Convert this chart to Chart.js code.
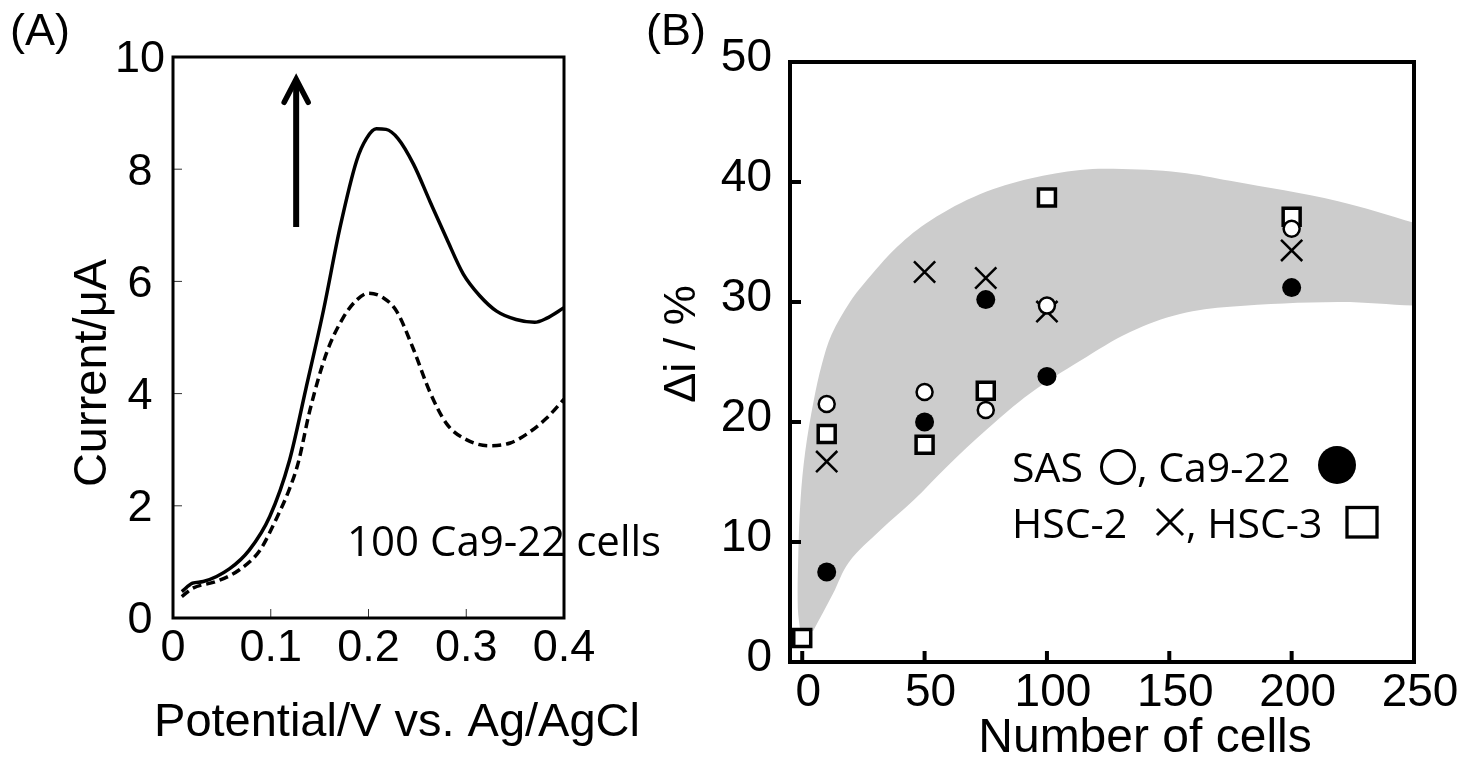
<!DOCTYPE html>
<html>
<head>
<meta charset="utf-8">
<script src="https://cdn.jsdelivr.net/npm/chart.js@4.4.1/dist/chart.umd.min.js"></script>
<style>
  html, body { margin: 0; padding: 0; background: #fff; }
  #wrap { position: relative; width: 1471px; height: 759px; }
  canvas { position: absolute; left: 0; top: 0; }
</style>
</head>
<body>
<div id="wrap">
  <canvas id="chartA" width="1471" height="759"></canvas>
  <canvas id="chartB" width="1471" height="759"></canvas>
</div>
<script>
// ---- panel (A): voltammograms ----
var potentialCells = [0.009, 0.020, 0.031, 0.058, 0.078, 0.099, 0.119, 0.136, 0.154, 0.171, 0.188, 0.198, 0.208, 0.218, 0.230, 0.246, 0.263, 0.280, 0.297, 0.314, 0.331, 0.351, 0.370, 0.382, 0.400];
var currentCells   = [0.47, 0.62, 0.65, 0.88, 1.21, 1.81, 2.80, 4.09, 5.49, 6.97, 8.16, 8.55, 8.72, 8.71, 8.55, 8.09, 7.42, 6.76, 6.13, 5.74, 5.47, 5.32, 5.27, 5.34, 5.53];
var potentialBlank = [0.009, 0.020, 0.044, 0.068, 0.089, 0.106, 0.118, 0.128, 0.140, 0.157, 0.174, 0.188, 0.200, 0.215, 0.229, 0.246, 0.263, 0.280, 0.300, 0.324, 0.345, 0.362, 0.382, 0.400];
var currentBlank   = [0.38, 0.53, 0.65, 0.86, 1.21, 1.78, 2.25, 2.76, 3.70, 4.72, 5.35, 5.67, 5.79, 5.71, 5.46, 4.79, 4.02, 3.46, 3.18, 3.07, 3.12, 3.28, 3.56, 3.90];
var xTicksA = [0, 0.1, 0.2, 0.3, 0.4];
var yTicksA = [0, 2, 4, 6, 8, 10];
var arrowA = { x: 0.126, from: 6.97, to: 9.62 };

// ---- panel (B): delta i vs number of cells ----
var cellsSAS = [10, 50, 75, 100, 200];
var diSAS = [21.5, 22.5, 21.0, 29.7, 36.1];
var cellsCa922 = [10, 50, 75, 100, 200];
var diCa922 = [7.5, 20.0, 30.2, 23.8, 31.2];
var cellsHSC2 = [10, 50, 75, 100, 200];
var diHSC2 = [16.7, 32.5, 32.0, 29.2, 34.3];
var cellsHSC3 = [0, 10, 50, 75, 100, 200];
var diHSC3 = [2.0, 19.0, 18.1, 22.6, 38.7, 37.1];
// grey band: upper edge left->right, then lower edge right->left
var bandCells = [-0.7, -1.8, -1.6, -0.7, 1.2, 4.7, 8.0, 12.0, 19.5, 25.1, 38.8, 52.4, 72.8, 93.2, 113.6, 127.2, 154.4, 174.8, 219, 250, 258,
                 258, 250, 219, 174.8, 154.4, 134, 113.6, 93.2, 75.5, 59.2, 45.6, 32, 19.0, 12.6, 4.5];
var bandDi    = [2.4, 4.5, 9.0, 13.5, 17.5, 21.8, 24.8, 27.3, 30.0, 31.5, 34.6, 36.8, 39.0, 40.3, 41.0, 41.1, 40.8, 40.1, 38.4, 36.6, 36.1,
                 29.7, 29.7, 30.0, 29.6, 29.0, 27.5, 25.1, 22.4, 19.4, 16.3, 13.5, 11.0, 8.3, 5.7, 2.6];
var xTicksB = [0, 50, 100, 150, 200, 250];
var yTicksB = [0, 10, 20, 30, 40, 50];

Chart.defaults.font.family = '"Liberation Sans", Arial, sans-serif';
Chart.defaults.color = '#000';

function pts(xs, ys) {
  return xs.map(function (x, i) { return { x: x, y: ys[i] }; });
}
function fixedTicks(list) {
  return function (scale) { scale.ticks = list.map(function (v) { return { value: v }; }); };
}

// frame round the plot area and inward tick marks
var framePlugin = {
  id: 'frame',
  afterDatasetsDraw: function (chart, args, o) {
    var ctx = chart.ctx, a = chart.chartArea;
    var xs = chart.scales.x, ys = chart.scales.y;
    ctx.save();
    ctx.strokeStyle = o.tickColor;
    ctx.lineWidth = o.tickWidth;
    xs.ticks.forEach(function (t) {
      var p = xs.getPixelForValue(t.value);
      ctx.beginPath(); ctx.moveTo(p, a.bottom); ctx.lineTo(p, a.bottom - o.tickLength); ctx.stroke();
    });
    ys.ticks.forEach(function (t) {
      var p = ys.getPixelForValue(t.value);
      ctx.beginPath(); ctx.moveTo(a.left, p); ctx.lineTo(a.left + o.tickLength, p); ctx.stroke();
    });
    ctx.strokeStyle = '#000';
    ctx.lineWidth = o.lineWidth;
    ctx.strokeRect(a.left, a.top, a.right - a.left, a.bottom - a.top);
    ctx.restore();
  }
};

// free text (panel letters, axis titles, notes)
var textPlugin = {
  id: 'notes',
  afterDraw: function (chart, args, o) {
    var ctx = chart.ctx;
    (o.items || []).forEach(function (it) {
      ctx.save();
      ctx.fillStyle = '#000';
      ctx.font = it.font;
      ctx.textAlign = it.align || 'left';
      ctx.textBaseline = 'alphabetic';
      ctx.translate(it.x, it.y);
      if (it.rotate) ctx.rotate(it.rotate);
      ctx.fillText(it.text, 0, 0);
      ctx.restore();
    });
  }
};

var arrowPlugin = {
  id: 'arrowA',
  afterDatasetsDraw: function (chart) {
    var ctx = chart.ctx;
    var px = chart.scales.x.getPixelForValue(arrowA.x);
    var y0 = chart.scales.y.getPixelForValue(arrowA.from);
    var y1 = chart.scales.y.getPixelForValue(arrowA.to);
    ctx.save();
    ctx.strokeStyle = '#000';
    ctx.lineWidth = 6;
    ctx.beginPath(); ctx.moveTo(px, y0); ctx.lineTo(px, y1 + 3); ctx.stroke();
    ctx.lineWidth = 5.5;
    ctx.lineJoin = 'miter';
    ctx.lineCap = 'round';
    ctx.beginPath(); ctx.moveTo(px - 12, y1 + 24); ctx.lineTo(px, y1 + 1); ctx.lineTo(px + 12, y1 + 24); ctx.stroke();
    ctx.restore();
  }
};

var legendPlugin = {
  id: 'legendB',
  afterDraw: function (chart) {
    var ctx = chart.ctx;
    ctx.save();
    ctx.fillStyle = '#000';
    ctx.strokeStyle = '#000';
    ctx.font = '41px "Open Sans"';
    ctx.textBaseline = 'alphabetic';
    ctx.fillText('SAS', 1012, 482);
    ctx.fillText(', Ca9-22', 1137, 482);
    ctx.fillText('HSC-2', 1012, 538);
    ctx.fillText(', HSC-3', 1186, 538);
    ctx.lineWidth = 3;
    ctx.beginPath(); ctx.arc(1118, 467, 16.5, 0, Math.PI * 2); ctx.stroke();
    ctx.beginPath(); ctx.arc(1337, 465, 19, 0, Math.PI * 2); ctx.fill();
    ctx.beginPath();
    ctx.moveTo(1157, 509); ctx.lineTo(1183, 535);
    ctx.moveTo(1183, 509); ctx.lineTo(1157, 535);
    ctx.stroke();
    ctx.lineWidth = 3.3;
    ctx.strokeRect(1347, 507.5, 30, 29.5);
    ctx.restore();
  }
};

new Chart(document.getElementById('chartA'), {
  type: 'line',
  data: {
    datasets: [
      { label: '100 Ca9-22 cells', data: pts(potentialCells, currentCells), borderColor: '#000', borderWidth: 3.5,
        pointRadius: 0, cubicInterpolationMode: 'monotone', fill: false },
      { label: 'blank', data: pts(potentialBlank, currentBlank), borderColor: '#000', borderWidth: 3.5, borderDash: [9, 5],
        pointRadius: 0, cubicInterpolationMode: 'monotone', fill: false }
    ]
  },
  plugins: [framePlugin, arrowPlugin, textPlugin],
  options: {
    responsive: false,
    animation: false,
    layout: { padding: { left: 0, top: 57, right: 907, bottom: 0 } },
    scales: {
      x: {
        type: 'linear', min: 0, max: 0.4,
        afterBuildTicks: fixedTicks(xTicksA),
        afterFit: function (s) { s.height = 141; },
        grid: { display: false, drawTicks: false },
        border: { display: false },
        ticks: { font: { size: 45 }, padding: 4, maxRotation: 0 }
      },
      y: {
        min: 0, max: 10,
        afterBuildTicks: fixedTicks(yTicksA),
        afterFit: function (s) { s.width = 173; },
        grid: { display: false, drawTicks: false },
        border: { display: false },
        ticks: { font: { size: 45 }, padding: 8, crossAlign: 'center', labelOffset: 3 }
      }
    },
    plugins: {
      legend: { display: false },
      tooltip: { enabled: false },
      frame: { lineWidth: 3, tickLength: 9, tickWidth: 1, tickColor: '#333' },
      notes: {
        items: [
          { text: '(A)', x: 10, y: 45, font: '45px "Liberation Sans"' },
          { text: 'Current/\u03bcA', x: 106, y: 373, rotate: -Math.PI / 2, align: 'center', font: '47px "Liberation Sans"' },
          { text: 'Potential/V vs. Ag/AgCl', x: 397, y: 736, align: 'center', font: '47px "Liberation Sans"' },
          { text: '100 Ca9-22 cells', x: 347, y: 556, font: '42px "Open Sans"' }
        ]
      }
    }
  }
});

function markers(label, xs, ys, style, radius, fillColor, bw) {
  return { label: label, data: pts(xs, ys), showLine: false, order: 0,
    pointStyle: style, pointRadius: radius, pointBorderWidth: bw,
    pointBorderColor: '#000', pointBackgroundColor: fillColor };
}

new Chart(document.getElementById('chartB'), {
  type: 'line',
  data: {
    datasets: [
      markers('SAS', cellsSAS, diSAS, 'circle', 8, '#fff', 2.5),
      markers('Ca9-22', cellsCa922, diCa922, 'circle', 9.5, '#000', 0),
      markers('HSC-2', cellsHSC2, diHSC2, 'crossRot', 15, '#000', 2.5),
      markers('HSC-3', cellsHSC3, diHSC3, 'rect', 12, '#fff', 3.5),
      { label: 'band', data: pts(bandCells, bandDi), order: 10, borderWidth: 0, pointRadius: 0,
        backgroundColor: '#cccccc', borderColor: 'rgba(0,0,0,0)', fill: 'shape', tension: 0.35 }
    ]
  },
  plugins: [framePlugin, legendPlugin, textPlugin],
  options: {
    responsive: false,
    animation: false,
    layout: { padding: { left: 0, top: 62, right: 57, bottom: 0 } },
    scales: {
      x: {
        type: 'linear', min: -5, max: 250,
        afterBuildTicks: fixedTicks(xTicksB),
        afterFit: function (s) { s.height = 97; },
        grid: { display: false, drawTicks: false },
        border: { display: false },
        ticks: { font: { size: 46 }, padding: 4, maxRotation: 0, labelOffset: 6 }
      },
      y: {
        min: 0, max: 50,
        afterBuildTicks: fixedTicks(yTicksB),
        afterFit: function (s) { s.width = 790; },
        grid: { display: false, drawTicks: false },
        border: { display: false },
        ticks: { font: { size: 46 }, padding: 18, labelOffset: -4 }
      }
    },
    plugins: {
      legend: { display: false },
      tooltip: { enabled: false },
      frame: { lineWidth: 4, tickLength: 11, tickWidth: 4, tickColor: '#000' },
      notes: {
        items: [
          { text: '(B)', x: 646, y: 45, font: '45px "Liberation Sans"' },
          { text: '\u0394i / %', x: 695, y: 344, rotate: -Math.PI / 2, align: 'center', font: '45px "Liberation Sans"' },
          { text: 'Number of cells', x: 1145, y: 752, align: 'center', font: '48px "Liberation Sans"' }
        ]
      }
    }
  }
});
</script>
</body>
</html>
